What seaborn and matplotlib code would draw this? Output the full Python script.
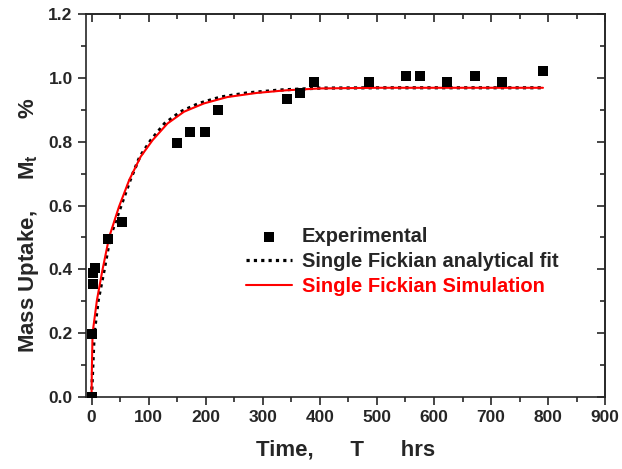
import numpy as np
import pandas as pd
import matplotlib
matplotlib.use('Agg')
import matplotlib.pyplot as plt
import seaborn as sns
from matplotlib.ticker import MultipleLocator

# experimental mass uptake
exp_t = [0, 1, 2, 3, 6, 29, 54, 149, 173, 198, 221, 342, 366, 390, 486, 551, 575, 623, 672, 720, 791]
exp_m = [0.0, 0.197, 0.354, 0.39, 0.405, 0.494, 0.547, 0.795, 0.83, 0.83, 0.90,
         0.934, 0.953, 0.986, 0.986, 1.005, 1.005, 0.986, 1.005, 0.986, 1.022]

# single Fickian analytical fit
fit_t = [0, 2.4, 4.7, 11.7, 22, 32.7, 51, 67.7, 84.6, 104, 128, 156, 188, 226, 273, 330, 400, 500, 600, 700, 791]
fit_m = [0.0, 0.105, 0.20, 0.303, 0.397, 0.502, 0.596, 0.68, 0.753, 0.805, 0.857,
         0.894, 0.92, 0.94, 0.953, 0.962, 0.968, 0.969, 0.969, 0.969, 0.969]

# single Fickian simulation
sim_t = [0, 0.5, 1.8, 9.4, 19, 31, 48, 66, 86, 107, 133, 162, 197, 238, 290, 340, 400, 500, 600, 700, 791]
sim_m = [0.0, 0.08, 0.20, 0.303, 0.397, 0.502, 0.596, 0.68, 0.753, 0.805, 0.857,
         0.894, 0.92, 0.94, 0.953, 0.961, 0.967, 0.969, 0.969, 0.969, 0.969]

sns.set_style('ticks')
plt.rcParams['font.family'] = ['Liberation Sans', 'DejaVu Sans']
plt.rcParams['font.weight'] = 'bold'
plt.rcParams['mathtext.fontset'] = 'custom'
plt.rcParams['mathtext.bf'] = 'Liberation Sans:bold'
plt.rcParams['mathtext.rm'] = 'Liberation Sans:bold'
plt.rcParams['mathtext.it'] = 'Liberation Sans:bold'

df_exp = pd.DataFrame({'t': exp_t, 'm': exp_m})
df_fit = pd.DataFrame({'t': fit_t, 'm': fit_m})
df_sim = pd.DataFrame({'t': sim_t, 'm': sim_m})

fig = plt.figure(figsize=(6.22, 4.69), dpi=100)
ax = fig.add_axes([0.138, 0.1535, 0.835, 0.8165])

sns.scatterplot(data=df_exp, x='t', y='m', marker='s', s=50, color='black',
                edgecolor='black', linewidth=0, ax=ax, zorder=5, label='Experimental')
sns.lineplot(data=df_fit, x='t', y='m', color='black', lw=2.3,
             linestyle=(0, (1, 1.3)), ax=ax, zorder=3, label='Single Fickian analytical fit')
sns.lineplot(data=df_sim, x='t', y='m', color='#ff0000', lw=1.5, ax=ax, zorder=4,
             label='Single Fickian Simulation')

ax.set_xlim(-10, 900)
ax.set_ylim(0, 1.2)
ax.xaxis.set_major_locator(MultipleLocator(100))
ax.xaxis.set_minor_locator(MultipleLocator(50))
ax.yaxis.set_major_locator(MultipleLocator(0.2))
ax.yaxis.set_minor_locator(MultipleLocator(0.1))
ax.yaxis.set_major_formatter(matplotlib.ticker.FormatStrFormatter('%.1f'))
ax.tick_params(which='major', direction='out', length=6, width=1.2, labelsize=12.5)
ax.tick_params(which='minor', direction='out', length=3.5, width=1.2)
for lbl in ax.get_xticklabels() + ax.get_yticklabels():
    lbl.set_fontweight('bold')
for sp in ax.spines.values():
    sp.set_linewidth(1.2)
    sp.set_visible(True)

# mirrored inward ticks on top and right
top = ax.secondary_xaxis('top')
top.xaxis.set_major_locator(MultipleLocator(100))
top.xaxis.set_minor_locator(MultipleLocator(50))
top.tick_params(which='major', direction='in', length=6, width=1.2, labeltop=False)
top.tick_params(which='minor', direction='in', length=3.5, width=1.2)
right = ax.secondary_yaxis('right')
right.yaxis.set_major_locator(MultipleLocator(0.2))
right.yaxis.set_minor_locator(MultipleLocator(0.1))
right.tick_params(which='major', direction='in', length=6, width=1.2, labelright=False)
right.tick_params(which='minor', direction='in', length=3.5, width=1.2)
for sec in (top, right):
    for sp in sec.spines.values():
        sp.set_linewidth(1.2)

ax.set_xlabel('Time,      T      hrs', fontsize=16, fontweight='bold', labelpad=10)
ax.set_ylabel(r'Mass Uptake,     $\mathbf{M_t}$      %', fontsize=16, fontweight='bold')
ax.yaxis.set_label_coords(-0.087, 0.45)

leg = ax.legend(loc='upper left', bbox_to_anchor=(0.292, 0.465), frameon=False,
                fontsize=14.5, handlelength=2.3, handletextpad=0.5, labelspacing=0.3,
                borderaxespad=0)
for txt in leg.get_texts():
    txt.set_fontweight('bold')
leg.get_texts()[2].set_color('#ff0000')

fig.savefig('out.png', dpi=100)
